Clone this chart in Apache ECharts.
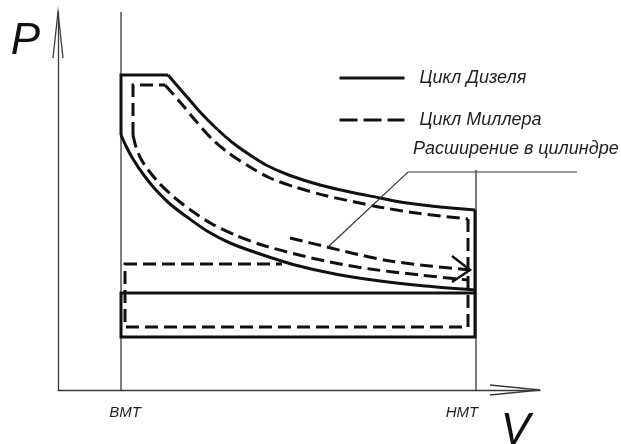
<!DOCTYPE html>
<html><head><meta charset="utf-8">
<script src="https://cdn.jsdelivr.net/npm/echarts@6/dist/echarts.min.js"></script>
<style>html,body{margin:0;padding:0;background:#fff}#c{width:621px;height:444px}</style>
</head><body><div id="c"></div>
<script>
// Names
var seriesNames = ['Цикл Дизеля', 'Цикл Миллера'];
var noteText = 'Расширение в цилиндре';
var tickLabels = ['ВМТ', 'НМТ'];
var tickLabelPos = [6.7, 40.4];
var bmtV = 6.3, hmtV = 41.8;
var vMax = 48.2, pMax = 37.8;

// Diesel cycle (V, P)
var dieselExpansion = [[11.0,31.5],[12.9,29.3],[14.2,27.8],[15.9,26.1],[17.5,24.7],[19.2,23.5],[20.9,22.45],[23.2,21.45],[26.2,20.5],[29.2,19.8],[32.2,19.2],[34.2,18.8],[38.2,18.3],[41.7,18.0]];
var dieselCompression = [[6.3,25.5],[6.8,24.4],[7.5,23.1],[8.5,21.6],[9.7,20.1],[11.2,18.6],[12.9,17.3],[14.9,15.9],[17.2,14.7],[20.2,13.6],[23.7,12.5],[27.7,11.6],[32.2,10.9],[36.7,10.4],[41.7,10.0]];
var dieselTop = [[6.3,25.5],[6.3,31.5],[11.0,31.5]];
var dieselGas = [[41.7,18.0],[41.7,5.3],[6.3,5.3],[6.3,9.7],[41.7,9.7]];

// Miller cycle (V, P)
var millerExpansion = [[10.7,30.5],[12.2,28.8],[13.7,27.0],[15.4,25.1],[17.2,23.6],[19.2,22.3],[21.2,21.2],[23.7,20.3],[26.7,19.45],[29.7,18.8],[32.7,18.2],[36.2,17.65],[41.0,17.1]];
var millerCompression = [[7.5,25.5],[7.8,24.3],[8.3,23.1],[9.1,21.9],[10.2,20.6],[11.7,19.2],[13.4,17.9],[15.4,16.6],[17.7,15.5],[20.4,14.5],[23.7,13.6],[27.2,12.8],[31.2,12.1],[36.2,11.5],[41.0,11.0]];
var millerTop = [[7.5,25.5],[7.5,30.5],[10.7,30.5]];
var millerGas = [[41.0,17.1],[41.0,6.3],[6.7,6.3],[6.7,12.6],[22.4,12.6]];

// Expansion-in-cylinder arrow
var cylExpansion = [[23.2,15.2],[26.9,14.3],[30.2,13.5],[33.2,12.9],[37.2,12.4],[41.2,12.0]];
var cylArrowHead = [[39.4,13.4],[41.2,12.0],[39.4,10.8]];
var leader = [[51.9,21.8],[35.0,21.8],[27.0,14.3]];

// Reference lines and axis arrows
var bmtLine = [[bmtV,0],[bmtV,pMax]];
var hmtLine = [[hmtV,0],[hmtV,22.0]];
var pArrow = [[-0.5,33.2],[0,pMax],[0.5,33.2]];
var vArrow = [[43.2,0.5],[vMax,0],[43.2,-0.5]];

var INK = '#111';
var THIN = '#3a3a3a';
var DASH = [13, 6];

function ln(name, data, opt) {
  return {
    type: 'line', name: name, data: data, symbol: 'none', clip: false,
    xAxisIndex: 1, yAxisIndex: 1,
    silent: true, animation: false,
    lineStyle: { color: opt.color || INK, width: opt.width || 3, type: opt.type || 'solid', cap: 'butt', join: 'miter' },
    itemStyle: { color: opt.color || INK },
    smooth: opt.smooth || false, z: opt.z || 2
  };
}

var chart = echarts.init(document.getElementById('c'), null, { renderer: 'canvas' });
chart.setOption({
  backgroundColor: '#fff',
  animation: false,
  textStyle: { fontFamily: 'Liberation Sans' },
  grid: [
    { left: 58, top: 12, width: 482, height: 378, containLabel: false, outerBoundsMode: 'none' },
    { left: 0, top: 0, width: 621, height: 444, containLabel: false, outerBoundsMode: 'none' }
  ],
  legend: {
    data: [
      { name: seriesNames[0], lineStyle: { type: 'solid', width: 3 } },
      { name: seriesNames[1], lineStyle: { type: [18, 6], width: 3 } }
    ],
    orient: 'vertical', left: 333, top: 64, itemWidth: 65, itemHeight: 14, itemGap: 24,
    selectedMode: false,
    itemStyle: { opacity: 0 },
    textStyle: { fontFamily: 'Liberation Sans', fontStyle: 'italic', fontSize: 18, color: '#222', padding: [0,0,0,10] }
  },
  xAxis: [{
    gridIndex: 0, type: 'value', min: 0, max: vMax,
    name: 'V', nameLocation: 'end', nameGap: -10,
    nameTextStyle: { fontFamily: 'Liberation Sans', fontStyle: 'italic', fontSize: 44, color: '#111', align: 'right', verticalAlign: 'top', padding: [20,0,0,0] },
    axisLine: { show: true, lineStyle: { color: THIN, width: 1.3 } },
    axisTick: { show: false },
    splitLine: { show: false },
    axisLabel: {
      show: true, customValues: tickLabelPos, margin: 15,
      fontFamily: 'Liberation Sans', fontStyle: 'italic', fontSize: 15, color: '#222',
      formatter: function (v) { var i = tickLabelPos.indexOf(v); return i >= 0 ? tickLabels[i] : ''; }
    }
  }, {
    gridIndex: 1, type: 'value', min: -5.8, max: 56.3, show: false
  }],
  yAxis: [{
    gridIndex: 0, type: 'value', min: 0, max: pMax,
    name: 'P', nameLocation: 'end', nameGap: -8,
    nameTextStyle: { fontFamily: 'Liberation Sans', fontStyle: 'italic', fontSize: 44, color: '#111', align: 'right', verticalAlign: 'top', padding: [0,18,0,0] },
    axisLine: { show: true, lineStyle: { color: THIN, width: 1.3 } },
    axisTick: { show: false },
    axisLabel: { show: false },
    splitLine: { show: false }
  }, {
    gridIndex: 1, type: 'value', min: -5.4, max: 39.0, show: false
  }],
  graphic: [{
    type: 'text', left: 413, top: 140,
    style: { text: noteText, fontFamily: 'Liberation Sans', fontStyle: 'italic', fontSize: 18, fill: '#222' }
  }],
  series: [
    ln(seriesNames[0], dieselTop, {}),
    ln(seriesNames[0], dieselExpansion, { smooth: 0.3 }),
    ln(seriesNames[0], dieselCompression, { smooth: 0.3 }),
    ln(seriesNames[0], dieselGas, {}),
    ln(seriesNames[1], millerTop, { type: DASH }),
    ln(seriesNames[1], millerExpansion, { type: DASH, smooth: 0.3 }),
    ln(seriesNames[1], millerCompression, { type: DASH, smooth: 0.3 }),
    ln(seriesNames[1], millerGas, { type: DASH }),
    ln('cyl', cylExpansion, { type: DASH, smooth: 0.3 }),
    ln('cylHead', cylArrowHead, { width: 2.5 }),
    ln('leader', leader, { width: 1.2, color: THIN }),
    ln('bmt', bmtLine, { width: 1.3, color: THIN, z: 1 }),
    ln('hmt', hmtLine, { width: 1.3, color: THIN, z: 1 }),
    ln('pArrow', pArrow, { width: 1.3, color: THIN }),
    ln('vArrow', vArrow, { width: 1.3, color: THIN })
  ]
});
</script>
</body></html>
